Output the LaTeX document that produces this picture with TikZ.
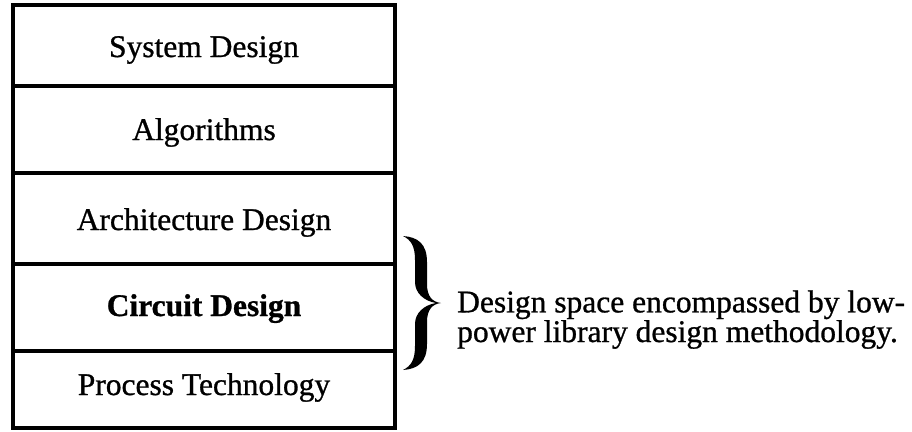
\documentclass[tikz,border=0pt]{standalone}
\usepackage{fontspec}
\setmainfont[FakeBold=0.9]{Liberation Serif}
\begin{document}
\begin{tikzpicture}[x=1pt,y=-1pt,
  rule/.style={line width=3.2pt},
  layer/.style={font=\fontsize{31.5}{23}\selectfont, anchor=base, inner sep=0pt},
  note/.style={font=\fontsize{31.5}{23}\selectfont, anchor=base west, inner sep=0pt, align=left}]
  \useasboundingbox (0,0) rectangle (912,431);
  % outer frame of the layer stack
  \draw[rule] (13,5) rectangle (395,428);
  % separators between the layers
  \foreach \y in {86,173,264,351} \draw[rule] (13,\y) -- (395,\y);
  % layer labels
  \node[layer] (sys)  at (204,57)  {System Design};
  \node[layer] (alg)  at (204,140) {Algorithms};
  \node[layer] (arch) at (204,230) {Architecture Design};
  \node[layer] (circ) at (204,316) {\bfseries Circuit Design};
  \node[layer] (proc) at (204,395) {Process Technology};
  % curly brace spanning the lower layers
  \fill
    (403,236) .. controls (418,237) and (427,244) .. (427,262)
    -- (427,284) .. controls (427,296) and (432,302) .. (441,303)
    .. controls (432,304) and (427,310) .. (427,322)
    -- (427,344) .. controls (427,362) and (418,369) .. (403,370)
    .. controls (411,366) and (415,360) .. (415,346)
    -- (415,324) .. controls (415,313) and (424,305) .. (436,303)
    .. controls (424,301) and (415,293) .. (415,282)
    -- (415,260) .. controls (415,246) and (411,240) .. (403,236) -- cycle;
  % explanatory note (anchored on the baseline of its last line)
  \node[note] (desc) at (457,342) {Design space encompassed by low-\\power library design methodology.};
\end{tikzpicture}
\end{document}
